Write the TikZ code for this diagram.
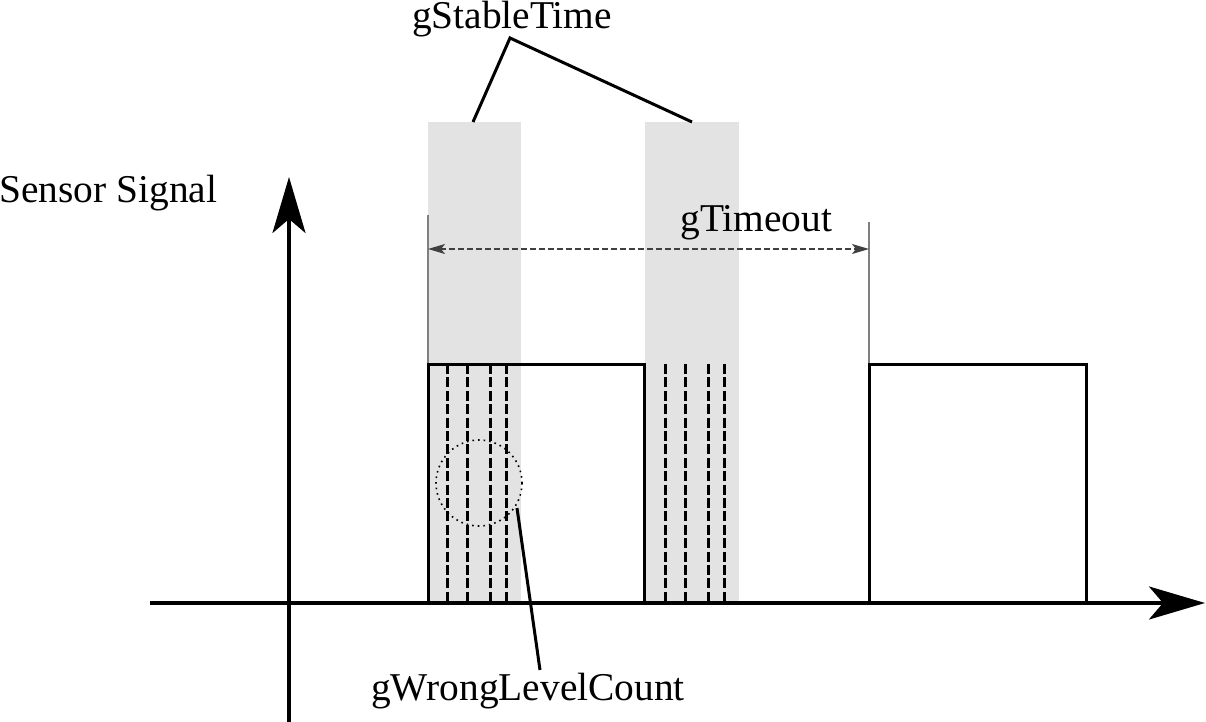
\documentclass[tikz,border=0pt]{standalone}
\usepackage{fontspec}
\setmainfont{Liberation Serif}
\usepackage{tikz}
\usetikzlibrary{arrows.meta,positioning}
\definecolor{bandgray}{RGB}{227,227,227}
\definecolor{guidegray}{RGB}{128,128,128}
\tikzset{
  axisln/.style={-{Stealth[length=28pt, width=16.5pt, inset=7pt]}, line width=1.6pt},
  pulse/.style={line width=1.5pt},
  band/.style={fill=bandgray, draw=none},
  sample/.style={line width=1.5pt, dash pattern=on 5pt off 1.7pt},
  guide/.style={draw=guidegray, line width=1pt},
  span/.style={{Stealth[length=8.5pt, width=5pt, inset=2pt]}-{Stealth[length=8.5pt, width=5pt, inset=2pt]},
               draw=black!75, line width=0.7pt, dash pattern=on 3pt off 1.5pt},
  lead/.style={line width=1.5pt},
  zone/.style={line width=0.8pt, dash pattern=on 0.8pt off 2pt},
  lbl/.style={font=\rmfamily\fontsize{19.7}{23}\selectfont, inner sep=0pt},
}

\begin{document}
\begin{tikzpicture}[x=0.5pt,y=-0.5pt]
\useasboundingbox (0,0) rectangle (1206,722);

% ===================== stable windows =====================
\fill[band] (428,122) rectangle (521,603);
\fill[band] (645,122) rectangle (739,603);

% ===================== timeout span =====================
\coordinate (t0top) at (428,215);
\coordinate (t0) at (428,364);
\coordinate (t1top) at (869,222);
\coordinate (t1) at (869,364);
\draw[guide] (t0top) -- (t0);
\draw[guide] (t1top) -- (t1);
\draw[span] (t0 |- 0,249) -- (t1 |- 0,249);
\node[lbl, anchor=base west] (timeout) at (680,232) {gTimeout};

% ===================== pulses =====================
\draw[pulse] (428,603) -- (t0) -- (644,364) -- (644,603);
\draw[pulse] (869,603) -- (t1) -- (1086,364) -- (1086,603);

% samples inside the windows
\foreach \x in {447,467,490,506}
  \draw[sample] (\x,364) -- (\x,603);
\foreach \x in {665,685,708,724}
  \draw[sample] (\x,364) -- (\x,603);

% ===================== axes =====================
\draw[axisln] (289,722) -- (289,177);
\draw[axisln] (150,603) -- (1205,603);
\node[lbl, anchor=base west] (sensor) at (-1,203) {Sensor Signal};

% ===================== labels and leaders =====================
\node[lbl, anchor=base] (stable) at (512,29) {gStableTime};
\coordinate (sapex) at (510,38);
\draw[lead] (473,122) -- (sapex) -- (692,122);

\draw[zone] (479,483) circle[radius=43];
\node[lbl, anchor=base] (wrong) at (528,700) {gWrongLevelCount};
\draw[lead] (517,508) -- (540,670);

\end{tikzpicture}
\end{document}
